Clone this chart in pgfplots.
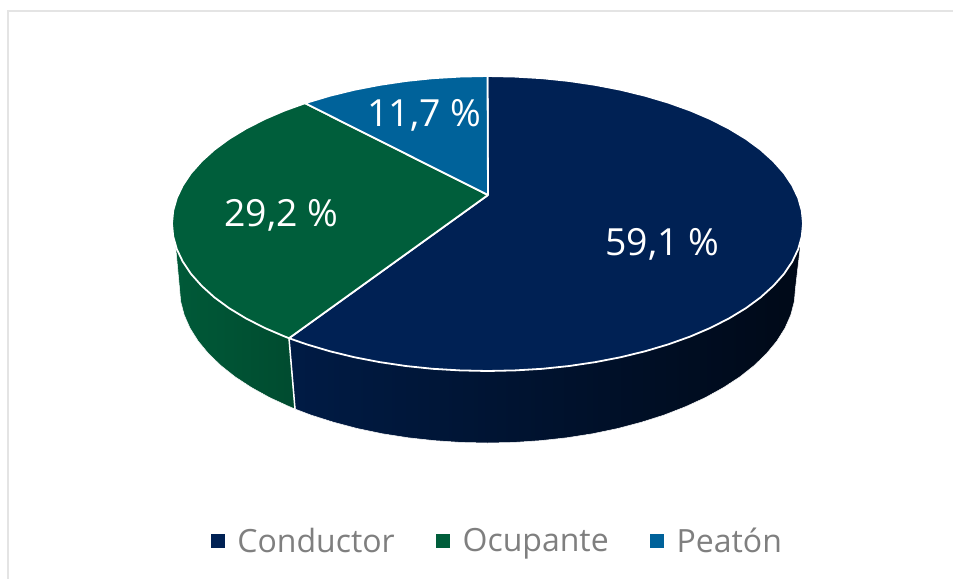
\documentclass[border=0pt]{standalone}
\usepackage{pgfplots}
\pgfplotsset{compat=1.18}
\usepackage{fontspec}
\setmainfont{Open Sans}
\definecolor{cond}{HTML}{002154}
\definecolor{ocup}{HTML}{005E3B}
\definecolor{peat}{HTML}{00629A}
\definecolor{frameg}{HTML}{E4E4E4}
\definecolor{legtxt}{HTML}{7F7F7F}
\begin{document}
\begin{tikzpicture}
\path[use as bounding box] (0,0) rectangle (953pt,579pt);
\begin{axis}[
  at={(0,0)}, anchor=south west,
  scale only axis, width=953pt, height=579pt,
  xmin=0, xmax=953, ymin=0, ymax=579, y dir=reverse,
  axis lines=none, clip=true,
  legend style={at={(axis cs:211,541)}, anchor=west, draw=none, fill=none,
    font=\fontsize{32}{36}\selectfont\color{legtxt}, inner sep=0pt, outer sep=0pt,
    /tikz/every odd column/.append style={column sep=11pt},
    /tikz/every even column/.append style={column sep=39.5pt}},
  legend columns=-1,
  legend cell align=left,
  legend image code/.code={\fill[#1] (0pt,-6.5pt) rectangle (13pt,6.5pt);},
]
\addlegendimage{cond}
\addlegendimage{ocup}
\addlegendimage{peat}
\legend{Conductor,Ocupante,Peatón}

% chart frame
\addplot[forget plot, frameg, line width=2pt] coordinates {(7.5,579) (7.5,10.5) (953,10.5)};

% side wall, Conductor
\addplot[forget plot, draw=white, line width=0.5pt, left color=cond!82!black, middle color=cond!55!black, right color=cond!28!black] coordinates {
(800.5,245) (795.5,288) (794.3,301.5) (790.8,314.9) (785.0,328.1) (776.9,341.0) (766.6,353.5) (754.2,365.5)
(739.8,376.9) (723.4,387.6) (705.3,397.6) (685.5,406.7) (664.2,415.0) (641.5,422.2) (617.7,428.5) (592.8,433.7)
(567.2,437.7) (541.0,440.6) (514.4,442.4) (487.5,443) (460.6,442.4) (434.0,440.6) (407.8,437.7) (382.2,433.7)
(357.3,428.5) (333.5,422.2) (310.8,415.0) (295,409) (289,338.2) (800.5,245)};
% side wall, Ocupante
\addplot[forget plot, draw=white, line width=0.5pt, left color=ocup!95!black, right color=ocup!80!black] coordinates {
(289,338.2) (295,409) (289.5,406.7) (269.7,397.6) (251.6,387.6) (235.2,376.9) (220.8,365.5) (208.4,353.5)
(198.1,341.0) (190.0,328.1) (184.2,314.9) (180.7,301.5) (179.5,288) (175.5,245) (289,338.2)};
% seam between the walls
\addplot[forget plot, white, line width=1.5pt] coordinates {(289,338.2) (295,409)};

% top face, Conductor 59,1 %
\addplot[forget plot, fill=cond, draw=white, line width=1.8pt, line join=round] coordinates {
(488,195) (487.5,76.0) (515.0,76.6) (542.3,78.2) (569.2,81.0) (595.4,84.9) (620.8,89.8) (645.3,95.8) (668.5,102.7)
(690.3,110.5) (710.6,119.2) (729.2,128.7) (746.0,138.9) (760.7,149.7) (773.4,161.2) (784.0,173.1) (792.2,185.3)
(798.2,197.9) (801.8,210.6) (803.0,223.5) (801.8,236.4) (798.2,249.1) (792.2,261.7) (784.0,273.9) (773.4,285.8)
(760.7,297.3) (746.0,308.1) (729.2,318.3) (710.6,327.8) (690.3,336.5) (668.5,344.3) (645.3,351.2) (620.8,357.2)
(595.4,362.1) (569.2,366.0) (542.3,368.8) (515.0,370.4) (487.5,371.0) (460.0,370.4) (432.7,368.8) (405.8,366.0)
(379.6,362.1) (354.2,357.2) (329.7,351.2) (306.5,344.3) (289,338.2) (488,195)};
% top face, Ocupante 29,2 %
\addplot[forget plot, fill=ocup, draw=white, line width=1.8pt, line join=round] coordinates {
(488,195) (289,338.2) (284.7,336.5) (264.4,327.8) (245.8,318.3) (229.0,308.1) (214.3,297.3) (201.6,285.8) (191.0,273.9)
(182.8,261.7) (176.8,249.1) (173.2,236.4) (172.0,223.5) (173.2,210.6) (176.8,197.9) (182.8,185.3) (191.0,173.1)
(201.6,161.2) (214.3,149.7) (229.0,138.9) (245.8,128.7) (264.4,119.2) (284.7,110.5) (305,103.2) (488,195)};
% top face, Peatón 11,7 %
\addplot[forget plot, fill=peat, draw=white, line width=1.8pt, line join=round] coordinates {
(488,195) (305,103.2) (329.7,95.8) (354.2,89.8) (379.6,84.9) (405.8,81.0) (432.7,78.2) (460.0,76.6) (487.5,76.0) (488,195)};

\node[white, font=\fontsize{37.4}{40}\selectfont, anchor=center] at (axis cs:662.3,244) {59,1 \%};
\node[white, font=\fontsize{37.4}{40}\selectfont, anchor=center] at (axis cs:281.3,215) {29,2 \%};
\node[white, font=\fontsize{37.4}{40}\selectfont, anchor=center] at (axis cs:424.3,115) {11,7 \%};
\end{axis}
\end{tikzpicture}
\end{document}
